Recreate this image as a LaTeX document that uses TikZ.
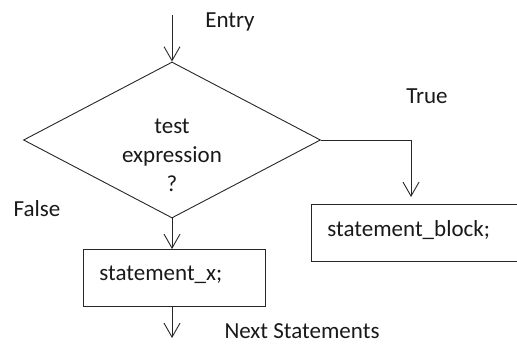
\documentclass[tikz,border=0pt]{standalone}
\usepackage{fontspec}
\setmainfont{Carlito}
\usetikzlibrary{shapes.geometric,arrows.meta}
\begin{document}
\begin{tikzpicture}[x=1pt,y=1pt,
  every node/.style={font=\fontsize{23}{29}\selectfont, text=black!90},
  conn/.style={draw=black!85, line width=0.9pt, -{Straight Barb[length=14pt,width=16pt,line width=0.9pt]}},
  boxstyle/.style={draw=black!85, line width=0.9pt, rectangle, minimum height=57pt, align=left, inner xsep=16pt, text depth=9pt},
  decstyle/.style={draw=black!85, line width=0.9pt, diamond, aspect=1.9, minimum width=297pt, minimum height=156pt, inner sep=0pt}]
\useasboundingbox (0,0) rectangle (517,343);
\node[decstyle] (dec) at (172,203) {};
\node[align=center] (dectext) at (172,188) {test\\expression\\?};
\node[boxstyle, text width=150pt, anchor=north west] (sx) at (83,94) {statement\_x;};
\node[boxstyle, text width=182pt, anchor=north west] (sb) at (311,139) {statement\_block;};
\coordinate (entry) at (172,328);
\coordinate (exit) at (172,5);
\coordinate (turn) at (411,203);
\draw[conn] (entry) -- (dec.north);
\draw[conn] (dec.south) -- (sx.north -| dec.south);
\draw[conn, shorten >=7pt] (dec.east) -- (turn) -- (turn |- sb.north);
\draw[conn] (sx.south -| dec.south) -- (exit);
\node (entrylbl) at (230,321) {Entry};
\node (truelbl) at (427,247) {True};
\node (falselbl) at (37,134) {False};
\node[anchor=base, inner sep=1pt] (nextlbl) at (302,5) {Next Statements};
\end{tikzpicture}
\end{document}
